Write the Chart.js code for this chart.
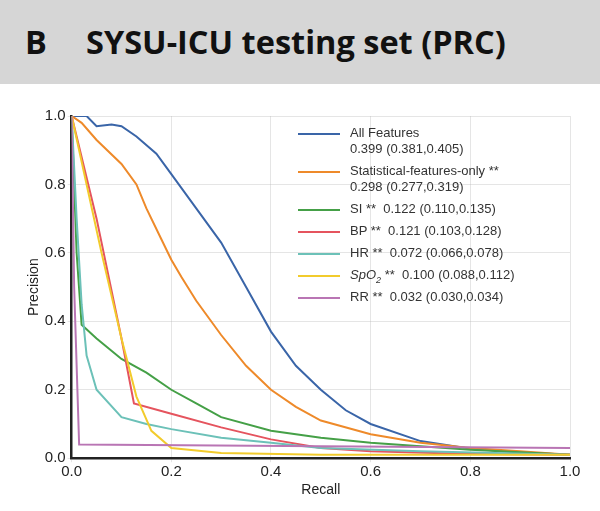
<!DOCTYPE html>
<html><head><meta charset="utf-8">
<script src="https://cdn.jsdelivr.net/npm/chart.js@4"></script>
<style>
body{margin:0;background:#fff;font-family:"Open Sans",Arial,sans-serif;}
#head{position:absolute;left:0;top:0;width:600px;height:84px;background:#d6d6d6;}
#head span{position:absolute;top:19px;font-size:32.5px;font-weight:700;color:#111;}
#wrap{position:absolute;left:0;top:84px;width:600px;height:427px;}
#legend{position:absolute;left:298px;top:125px;font-family:Arial,"Liberation Sans",sans-serif;font-size:13px;color:#333;line-height:16px;}
.it{position:relative;padding-left:52px;margin-bottom:6px;height:16px;}
.it.two{height:32px;}
.it b{position:absolute;left:0;top:8px;width:42px;height:2px;}
sub{font-size:9px;line-height:0;}
</style></head><body>
<div id="head"><span style="left:25px">B</span><span style="left:86px">SYSU-ICU testing set (PRC)</span></div>
<div id="wrap"><canvas id="c" width="600" height="427"></canvas></div>
<div id="legend"></div>
<script>
const names = ['All Features', 'Statistical-features-only **', 'SI **', 'BP **', 'HR **', 'SpO2 **', 'RR **'];
const aucText = ['0.399 (0.381,0.405)', '0.298 (0.277,0.319)', '0.122 (0.110,0.135)', '0.121 (0.103,0.128)', '0.072 (0.066,0.078)', '0.100 (0.088,0.112)', '0.032 (0.030,0.034)'];
const colors = ['#3a65a8', '#ee8a2a', '#45a047', '#e5545e', '#6cc1b8', '#f2cb2c', '#b975b4'];

const allRecall = [0, 0.03, 0.05, 0.08, 0.1, 0.13, 0.17, 0.2, 0.25, 0.3, 0.35, 0.4, 0.45, 0.5, 0.55, 0.6, 0.7, 0.8, 0.9, 1.0];
const allPrec = [1, 1, 0.97, 0.975, 0.97, 0.94, 0.89, 0.83, 0.73, 0.63, 0.5, 0.37, 0.27, 0.2, 0.14, 0.1, 0.05, 0.028, 0.017, 0.01];
const statRecall = [0, 0.02, 0.05, 0.1, 0.13, 0.15, 0.18, 0.2, 0.22, 0.25, 0.3, 0.35, 0.4, 0.45, 0.5, 0.6, 0.7, 0.8, 0.9, 1.0];
const statPrec = [1, 0.98, 0.93, 0.86, 0.8, 0.73, 0.64, 0.58, 0.53, 0.46, 0.36, 0.27, 0.2, 0.15, 0.11, 0.07, 0.045, 0.03, 0.02, 0.01];
const siRecall = [0, 0.01, 0.02, 0.05, 0.1, 0.15, 0.2, 0.25, 0.3, 0.4, 0.5, 0.6, 0.7, 0.8, 1.0];
const siPrec = [1, 0.6, 0.39, 0.35, 0.29, 0.25, 0.2, 0.16, 0.12, 0.08, 0.06, 0.045, 0.035, 0.025, 0.01];
const bpRecall = [0, 0.05, 0.1, 0.125, 0.2, 0.3, 0.4, 0.5, 0.6, 0.8, 1.0];
const bpPrec = [1, 0.7, 0.35, 0.16, 0.13, 0.09, 0.055, 0.03, 0.02, 0.012, 0.01];
const hrRecall = [0, 0.01, 0.02, 0.03, 0.05, 0.1, 0.15, 0.2, 0.3, 0.4, 0.5, 0.7, 1.0];
const hrPrec = [1, 0.7, 0.45, 0.3, 0.2, 0.12, 0.1, 0.085, 0.06, 0.045, 0.03, 0.02, 0.01];
const spo2Recall = [0, 0.03, 0.06, 0.1, 0.13, 0.16, 0.2, 0.3, 0.5, 1.0];
const spo2Prec = [1, 0.8, 0.6, 0.35, 0.18, 0.08, 0.03, 0.015, 0.01, 0.01];
const rrRecall = [0, 0.005, 0.015, 0.5, 1.0];
const rrPrec = [1, 0.5, 0.04, 0.035, 0.03];

const series = [[allRecall, allPrec], [statRecall, statPrec], [siRecall, siPrec], [bpRecall, bpPrec], [hrRecall, hrPrec], [spo2Recall, spo2Prec], [rrRecall, rrPrec]];
const ticks = [0, 0.2, 0.4, 0.6, 0.8, 1.0];

// blue drawn last so it sits on top
const datasets = series.map((s, i) => ({
    label: names[i],
    data: s[0].map((x, k) => ({ x, y: s[1][k] })),
    borderColor: colors[i],
    borderWidth: 2,
    pointRadius: 0,
    tension: 0,
    fill: false
})).reverse();

new Chart(document.getElementById('c'), {
    type: 'line',
    data: { datasets },
    options: {
        responsive: false,
        animation: false,
        layout: { padding: { left: 26, right: 30, top: 32, bottom: 12 } },
        plugins: { legend: { display: false }, tooltip: { enabled: false } },
        scales: {
            x: {
                type: 'linear', min: 0, max: 1,
                afterBuildTicks: a => { a.ticks = ticks.map(v => ({ value: v })); },
                ticks: { color: '#222', font: { size: 15, family: 'Arial' }, callback: v => v.toFixed(1), padding: 1 },
                grid: { color: 'rgba(180,180,180,0.35)', tickLength: 4 },
                border: { color: '#222', width: 2.5 },
                title: { display: true, text: 'Recall', color: '#222', font: { size: 14, family: 'Arial' }, padding: 0 }
            },
            y: {
                min: 0, max: 1,
                afterBuildTicks: a => { a.ticks = ticks.map(v => ({ value: v })); },
                ticks: { color: '#222', font: { size: 15, family: 'Arial' }, callback: v => v.toFixed(1), padding: 2 },
                grid: { color: 'rgba(180,180,180,0.35)', tickLength: 4 },
                border: { color: '#222', width: 2.5 },
                title: { display: true, text: 'Precision', color: '#222', font: { size: 14, family: 'Arial' }, padding: 0 }
            }
        }
    }
});

document.getElementById('legend').innerHTML = names.map((n, i) => {
    const label = n.replace('SpO2', '<i>SpO<sub>2</sub></i>');
    const two = i < 2;
    return `<div class="it${two ? ' two' : ''}"><b style="background:${colors[i]}"></b>${label}${two ? '<br>' : '&nbsp; '}${aucText[i]}</div>`;
}).join('');
</script>
</body></html>
